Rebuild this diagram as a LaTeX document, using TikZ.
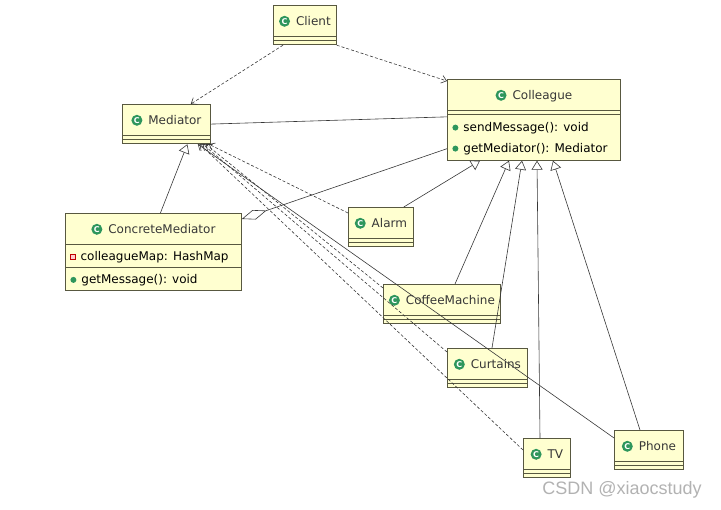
\documentclass[tikz,border=0pt]{standalone}
\usepackage{fontspec}
\setmainfont{DejaVu Sans}
\newfontfamily\markfont{Liberation Sans}
\usetikzlibrary{shapes.multipart,arrows.meta}

\definecolor{boxfill}{RGB}{255,255,208}
\definecolor{boxline}{RGB}{88,88,64}
\definecolor{icongreen}{RGB}{46,150,92}
\definecolor{textgray}{RGB}{55,55,55}
\definecolor{linegray}{RGB}{55,55,55}

\newcommand{\hstrut}{\rule[-8.5pt]{0pt}{27pt}}
\newcommand{\mstrut}{\rule[-5.5pt]{0pt}{19.5pt}}
\newcommand{\nomember}{\hspace*{1pt}\rule{0pt}{0.5pt}}
\newcommand{\pub}{\tikz[baseline=-3.5pt]\fill[icongreen] (0pt,0pt) circle[radius=3pt];\hspace{5pt}}
\newcommand{\priv}{\tikz[baseline=-3.5pt]\filldraw[draw=red!75!black, fill=red!20, line width=0.6pt] (-2.3pt,-2.3pt) rectangle (2.3pt,2.3pt);\hspace{5pt}}

\begin{document}
\begin{tikzpicture}[
        x=1pt, y=-1pt,
        umlclass/.style={rectangle split, rectangle split parts=3,
            rectangle split part align={center,left,left},
            draw=boxline, fill=boxfill, line width=0.8pt,
            inner xsep=5pt, inner ysep=1.5pt, anchor=north west,
            text=textgray, font=\fontsize{12}{21}\selectfont},
        classicon/.style={circle, fill=icongreen, text=white, inner sep=0pt,
            minimum size=11pt, font=\fontsize{8}{8}\selectfont\bfseries},
        conn/.style={draw=linegray, line width=0.6pt},
        depends/.style={conn, dash pattern=on 3pt off 2pt, -{Straight Barb[length=5pt,width=8pt]}},
        navig/.style={conn, -{Straight Barb[length=5pt,width=8pt]}},
        inherits/.style={conn, -{Triangle[open,fill=white,length=9pt,width=11pt]}},
        aggreg/.style={conn, {Diamond[open,fill=white,length=26pt,width=10pt]}-}
    ]
    \useasboundingbox (0,0) rectangle (721,510);

    \node[umlclass, minimum width=63] (client) at (273,5)
        {\hspace*{17pt}Client\hstrut\nodepart{second}\nomember\nodepart{third}\nomember};
    \node[umlclass, minimum width=88] (mediator) at (122,104)
        {\hspace*{17pt}Mediator\hstrut\nodepart{second}\nomember\nodepart{third}\nomember};
    \node[umlclass, minimum width=173] (colleague) at (447,79)
        {\hspace*{17pt}Colleague\hstrut\nodepart{second}\nomember\nodepart{third}%
         \begin{tabular}{@{}l@{}}\pub sendMessage(): void\mstrut\\
         \pub getMediator(): Mediator\mstrut\end{tabular}};
    \node[umlclass, minimum width=176] (concrete) at (65,213)
        {\hspace*{17pt}ConcreteMediator\hstrut
         \nodepart{second}\priv colleagueMap: HashMap\mstrut
         \nodepart{third}\pub getMessage(): void\mstrut};
    \node[umlclass, minimum width=65] (alarm) at (348,207)
        {\hspace*{17pt}Alarm\hstrut\nodepart{second}\nomember\nodepart{third}\nomember};
    \node[umlclass, minimum width=117] (coffee) at (383,284)
        {\hspace*{17pt}CoffeeMachine\hstrut\nodepart{second}\nomember\nodepart{third}\nomember};
    \node[umlclass, minimum width=80] (curtains) at (447,348)
        {\hspace*{17pt}Curtains\hstrut\nodepart{second}\nomember\nodepart{third}\nomember};
    \node[umlclass, minimum width=47] (tv) at (523,438)
        {\hspace*{17pt}TV\hstrut\nodepart{second}\nomember\nodepart{third}\nomember};
    \node[umlclass, minimum width=69] (phone) at (614,430)
        {\hspace*{17pt}Phone\hstrut\nodepart{second}\nomember\nodepart{third}\nomember};

    \foreach \c in {client,mediator,colleague,concrete,alarm,coffee,curtains,tv,phone}
        \node[classicon] at ([xshift=5.5,yshift=4.5]\c.text) {C};

    \draw[depends] ([xshift=10]client.south west) -- ([xshift=-20]mediator.north east);
    \draw[depends] (client.south east) -- ([yshift=-2]colleague.north west);
    \draw[conn] (mediator.east) -- ([yshift=3]colleague.west);
    \draw[inherits] ([xshift=7]concrete.north) -- ([xshift=21]mediator.south);
    \draw[aggreg] ([yshift=-6]concrete.north east) -- ([yshift=12]colleague.south west);

    \draw[inherits] ([xshift=-10]alarm.north east) -- ([xshift=33]colleague.south west);
    \draw[inherits] ([xshift=72]coffee.north west) -- ([xshift=62]colleague.south west);
    \draw[inherits] ([xshift=45]curtains.north west) -- ([xshift=75]colleague.south west);
    \draw[inherits] ([xshift=17]tv.north west) -- ([xshift=90]colleague.south west);
    \draw[inherits] ([xshift=26]phone.north west) -- ([xshift=106]colleague.south west);

    \draw[depends] ([yshift=-6]alarm.north west) -- ([xshift=-2]mediator.south east);
    \draw[depends] ([yshift=-4]coffee.north west) -- ([xshift=-5]mediator.south east);
    \draw[depends] ([yshift=-4]curtains.north west) -- ([xshift=-8]mediator.south east);
    \draw[depends] ([yshift=-12]tv.north west) -- ([xshift=-11]mediator.south east);
    \draw[navig] ([yshift=-8]phone.north west) -- ([xshift=-13]mediator.south east);

    \node[font=\markfont\fontsize{18}{18}\selectfont, text=gray!60] (mark) at (622,490) {CSDN @xiaocstudy};
\end{tikzpicture}
\end{document}
